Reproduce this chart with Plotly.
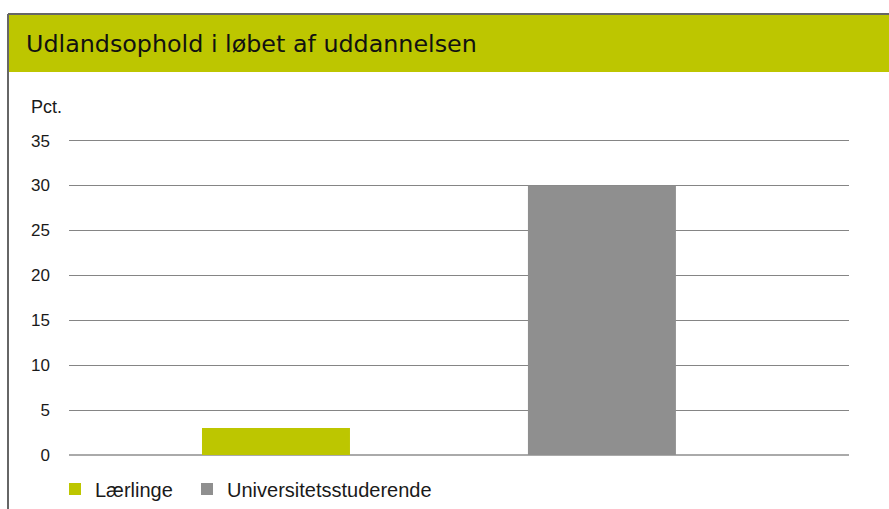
import plotly.graph_objects as go

categories = ["Lærlinge", "Universitetsstuderende"]
values = [3.0, 30.0]
colors = ["#bdc600", "#8f8f8f"]
y_ticks = [0, 5, 10, 15, 20, 25, 30, 35]
title_text = "Udlandsophold i løbet af uddannelsen"
unit_text = "Pct."

W, H = 889, 509
L, R, T, B = 69, 40, 137, 54
Y_MAX = 35.4
pw, ph = W - L - R, H - T - B


def px(x):
    return (x - L) / pw


def py(y):
    return (H - B - y) / ph


fig = go.Figure()
legend_ids = ["legend", "legend2"]
legend_left = [55, 187]
for c, v, col, lg in zip(categories, values, colors, legend_ids):
    fig.add_trace(go.Bar(x=[c], y=[v], name=c, marker=dict(color=col, line=dict(width=0)),
                         width=0.454, hoverinfo="skip", legend=lg))

legend_style = dict(orientation="h", xanchor="left", y=py(489), yanchor="middle",
                    font=dict(size=20, color="#1a1a1a"), itemwidth=30,
                    bgcolor="rgba(0,0,0,0)")

fig.update_layout(
    width=W, height=H,
    margin=dict(l=L, r=R, t=T, b=B, autoexpand=False),
    paper_bgcolor="white", plot_bgcolor="white",
    barmode="overlay",
    font=dict(family="Liberation Sans, Arial, sans-serif", color="#1a1a1a"),
    showlegend=True,
    legend=dict(x=px(legend_left[0]), **legend_style),
    legend2=dict(x=px(legend_left[1]), **legend_style),
    xaxis=dict(type="category", categoryarray=categories, range=[-0.635, 1.758],
               showticklabels=False, showgrid=False, zeroline=False, showline=False, ticks=""),
    yaxis=dict(range=[0, Y_MAX], tickvals=y_ticks, showgrid=True, gridcolor="#858585", gridwidth=1,
               zeroline=True, zerolinecolor="#aaaaaa", zerolinewidth=2, showline=False,
               ticks="", ticklabelstandoff=18, tickfont=dict(size=17, color="#1a1a1a")),
)

# header bar and border
fig.add_shape(type="rect", xref="paper", yref="paper", x0=px(9), x1=px(889), y0=py(72), y1=py(15),
              fillcolor="#bdc600", line=dict(width=0), layer="below")
fig.add_shape(type="line", xref="paper", yref="paper", x0=px(8), x1=px(889), y0=py(14), y1=py(14),
              line=dict(color="#666666", width=2))
fig.add_shape(type="line", xref="paper", yref="paper", x0=px(8), x1=px(8), y0=py(14), y1=py(509),
              line=dict(color="#666666", width=2))

fig.add_annotation(text=title_text, xref="paper", yref="paper", x=px(24), y=py(44),
                   xanchor="left", yanchor="middle", showarrow=False,
                   font=dict(family="DejaVu Sans, sans-serif", size=23.8, color="#111111"))
fig.add_annotation(text=unit_text, xref="paper", yref="paper", x=px(29), y=py(107),
                   xanchor="left", yanchor="middle", showarrow=False,
                   font=dict(size=18, color="#1a1a1a"))

fig.write_html("out.html", config={"displayModeBar": False},
               post_script="document.body.style.margin='0';")
